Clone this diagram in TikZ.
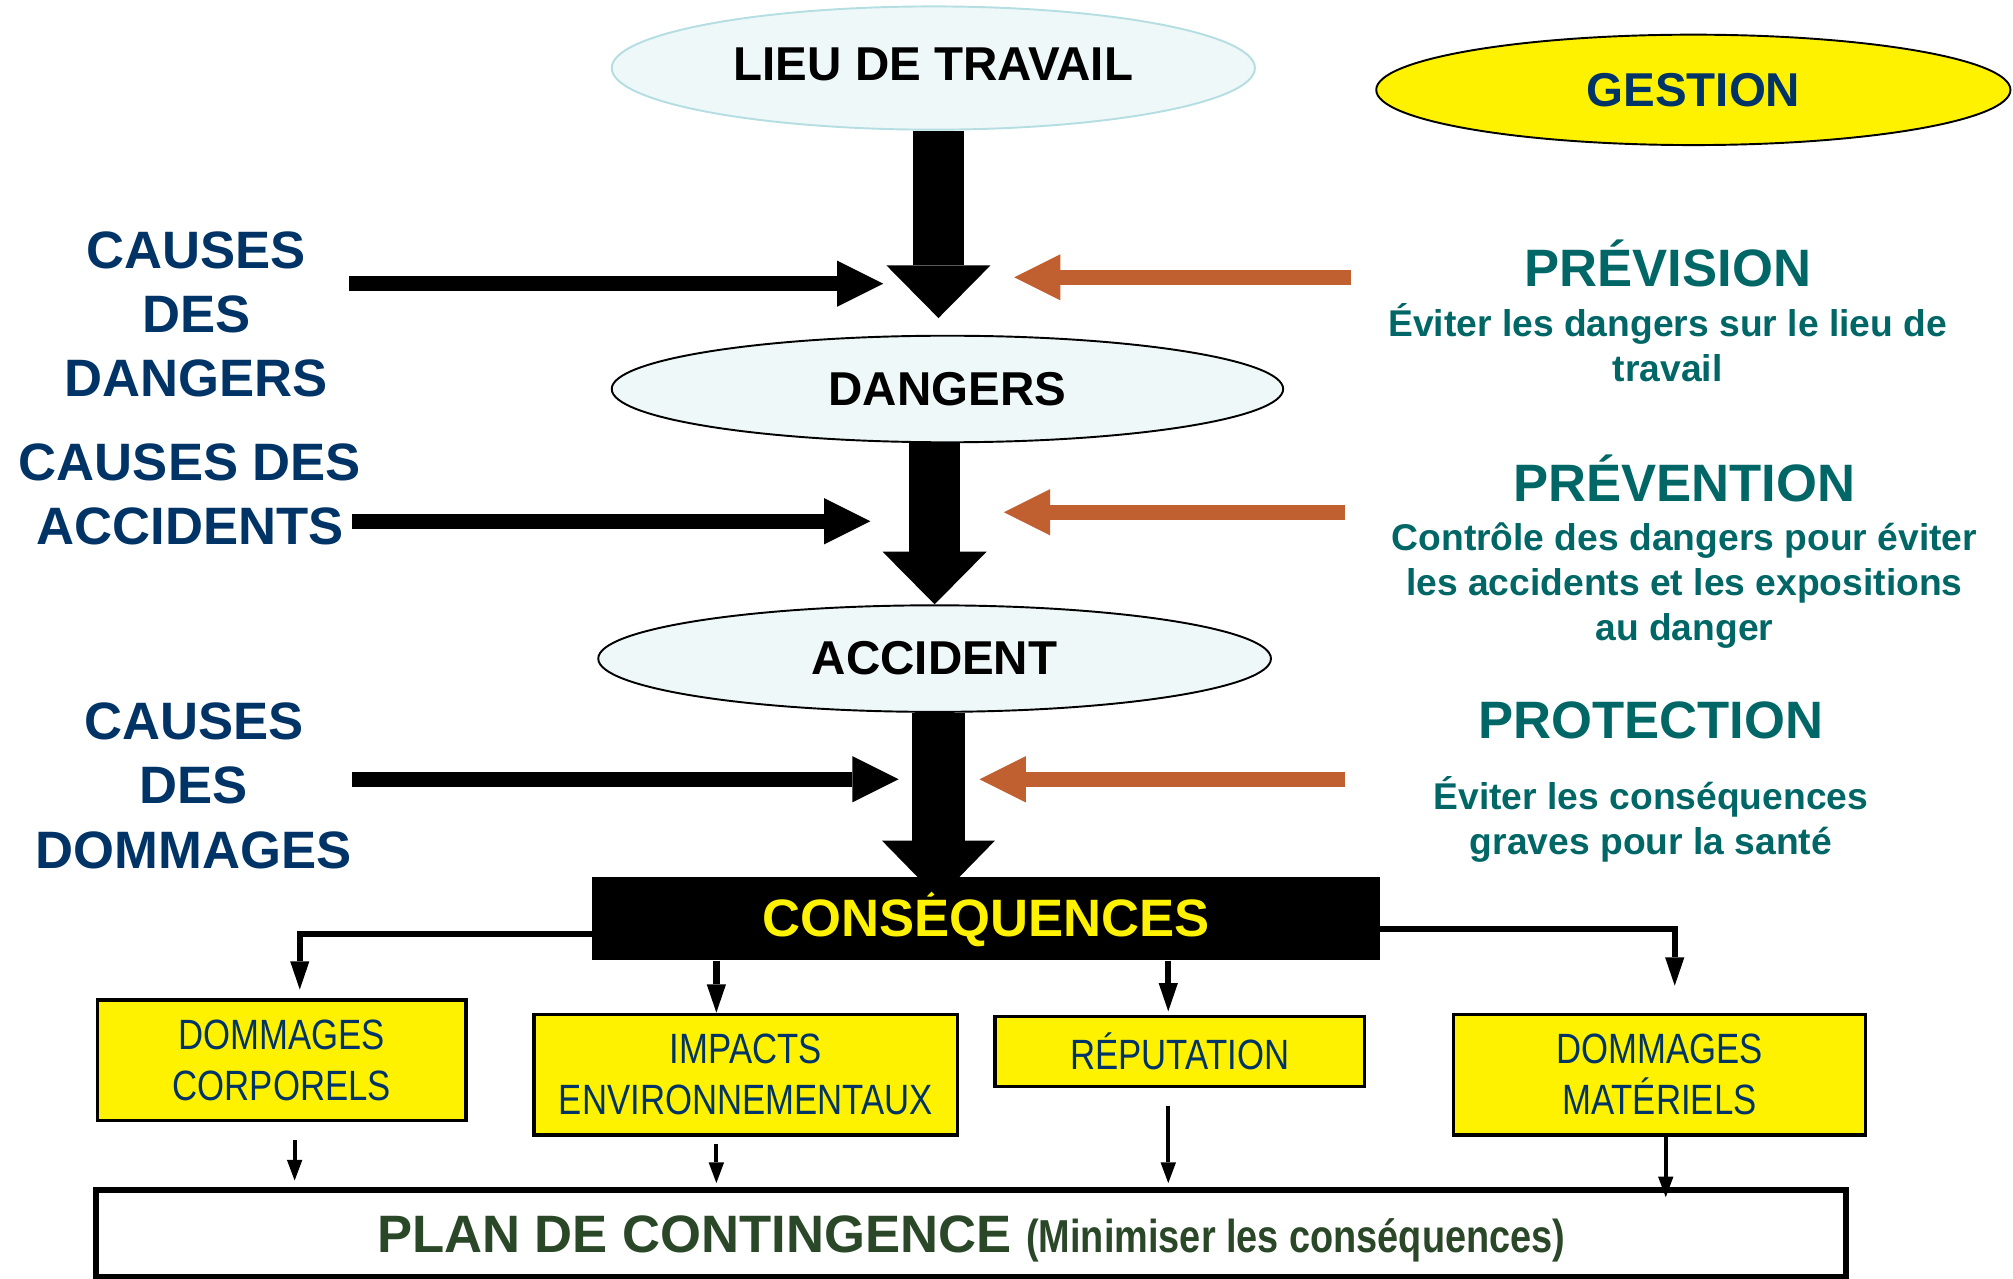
\documentclass[tikz,border=0pt]{standalone}
\usepackage{fontspec}
\setmainfont{Liberation Sans}
\newfontfamily\narrowfont[FakeStretch=0.82]{Liberation Sans}
\usetikzlibrary{shapes.geometric, arrows.meta, positioning}
\definecolor{navy}{RGB}{0,51,102}
\definecolor{tealtxt}{RGB}{0,102,102}
\definecolor{plangreen}{RGB}{42,72,40}
\definecolor{rust}{RGB}{192,96,48}
\definecolor{paleaqua}{RGB}{239,248,248}
\definecolor{aqualine}{RGB}{180,222,226}

\begin{document}
\begin{tikzpicture}[x=1pt, y=-1pt,
    oval/.style={ellipse, inner sep=0pt, line width=1.5pt, fill=paleaqua, draw=black,
                 font=\bfseries\fontsize{37}{44}\selectfont},
    cause/.style={align=center, inner sep=0pt, text=navy,
                  font=\bfseries\fontsize{41}{50}\selectfont},
    head/.style={inner sep=0pt, text=tealtxt, font=\bfseries\fontsize{41}{50}\selectfont},
    note/.style={align=center, inner sep=0pt, text=tealtxt,
                 font=\bfseries\fontsize{29}{35}\selectfont},
    outcome/.style={rectangle, draw=black, line width=2.5pt, fill=yellow, align=center,
                    inner sep=0pt, text=navy, font=\narrowfont\fontsize{33}{40}\selectfont},
    bigarr/.style={line width=40pt, -{Triangle[width=81pt,length=41pt,line width=0pt]}},
    sidearr/.style={line width=12pt, -{Triangle[width=36pt,length=36pt,line width=0pt]}},
    brarr/.style={line width=5pt, -{Triangle[width=15pt,length=22pt,line width=0pt]}},
    lowarr/.style={line width=3pt, -{Triangle[width=12pt,length=16pt,line width=0pt]}}
  ]
  \useasboundingbox (0,0) rectangle (1568,996);

  % central chain
  \node[oval, draw=aqualine, text depth=6pt, minimum width=501pt, minimum height=96pt] (lieu) at (727,53) {LIEU DE TRAVAIL};
  \node[oval, minimum width=523pt, minimum height=83pt] (dangers) at (738,303) {DANGERS};
  \node[oval, minimum width=524pt, minimum height=83pt] (accident) at (728,513) {ACCIDENT};
  \node[rectangle, fill=black, minimum width=614pt, minimum height=65pt, inner sep=0pt,
        text=yellow, font=\bfseries\fontsize{41}{50}\selectfont] (conseq) at (768,715.5) {CONSÉQUENCES};

  \node[ellipse, draw=black, line width=1.5pt, fill=yellow, inner sep=0pt, minimum width=494pt,
        minimum height=86pt, text=navy, font=\bfseries\fontsize{37}{44}\selectfont] (gestion) at (1319,70) {GESTION};

  % causes
  \node[cause] (cdang) at (153,245) {CAUSES\\DES\\DANGERS};
  \node[cause] (cacc) at (148,385) {CAUSES DES\\ACCIDENTS};
  \node[cause] (cdom) at (151,612) {CAUSES\\DES\\DOMMAGES};

  % management levels
  \node[head] (prev) at (1299,205) {PRÉVISION};
  \node[note] (prevtxt) at (1299,267) {Éviter les dangers sur le lieu de\\travail};
  \node[head] (preven) at (1312,373) {PRÉVENTION};
  \node[note] (preventxt) at (1312,456) {Contrôle des dangers pour éviter\\les accidents et les expositions\\au danger};
  \node[head] (prot) at (1286,561) {PROTECTION};
  \node[note] (prottxt) at (1286,638) {Éviter les conséquences\\graves pour la santé};

  % outcomes
  \node[outcome, minimum width=287pt, minimum height=94pt] (corp) at (219.5,826) {DOMMAGES\\CORPORELS};
  \node[outcome, minimum width=330pt, minimum height=94pt] (env) at (581,837) {IMPACTS\\ENVIRONNEMENTAUX};
  \node[outcome, minimum width=288pt, minimum height=54pt] (rep) at (919,819) {RÉPUTATION};
  \node[outcome, minimum width=321pt, minimum height=94pt] (mat) at (1292.5,837) {DOMMAGES\\MATÉRIELS};

  \node[rectangle, draw=black, line width=5pt, fill=white, minimum width=1363pt, minimum height=68pt,
        inner sep=0pt, text depth=0pt, text=plangreen, font=\bfseries\fontsize{41}{50}\selectfont] (plan) at (756.5,961)
        {PLAN DE CONTINGENCE {\narrowfont\fontsize{36}{40}\selectfont (Minimiser les conséquences)}};

  % arrow ends
  \coordinate (d1) at (688,221);
  \coordinate (d2) at (678,406);
  \coordinate (d3) at (700,607);
  \coordinate (g1) at (1052,216);
  \coordinate (g2) at (1048,399);
  \coordinate (g3) at (1048,607);

  % main flow
  \draw[bigarr, shorten >=13pt] ([xshift=4pt]lieu.south) -- ([xshift=4pt]lieu.south |- dangers.north);
  \draw[bigarr] (accident.north |- dangers.south) -- (accident.north);
  \draw[bigarr, line width=42pt, -{Triangle[width=88pt,length=45pt,line width=0pt]}, shorten >=-17pt]
    ([xshift=3pt]accident.south) -- ([xshift=3pt]accident.south |- conseq.north);

  \draw[sidearr, shorten <=16pt] (cdang.east |- d1) -- (d1);
  \draw[sidearr, shorten <=-7pt] (cacc.east |- d2) -- (d2);
  \draw[sidearr] (cdom.east |- d3) -- (d3);

  \draw[sidearr, rust] (g1) -- (790,216);
  \draw[sidearr, rust] (g2) -- (782,399);
  \draw[sidearr, rust] (g3) -- (763,607);

  % consequences
  \draw[brarr, shorten >=7pt] ([yshift=-12pt]conseq.west) -| ([xshift=14pt]corp.north);
  \draw[brarr] ([xshift=-23pt]env.north |- conseq.south) -- ([xshift=-23pt]env.north);
  \draw[brarr, shorten >=3pt] ([xshift=-9pt]rep.north |- conseq.south) -- ([xshift=-9pt]rep.north);
  \draw[brarr, shorten >=21pt] ([yshift=-8pt]conseq.east) -| ([xshift=12pt]mat.north);

  \draw[lowarr, shorten <=14pt, shorten >=5pt] ([xshift=10pt]corp.south) -- ([xshift=10pt]corp.south |- plan.north);
  \draw[lowarr, shorten <=6pt, shorten >=3pt] ([xshift=-23pt]env.south) -- ([xshift=-23pt]env.south |- plan.north);
  \draw[lowarr, shorten <=14pt, shorten >=3pt] ([xshift=-9pt]rep.south) -- ([xshift=-9pt]rep.south |- plan.north);
  \draw[lowarr, shorten >=-8pt] ([xshift=5pt]mat.south) -- ([xshift=5pt]mat.south |- plan.north);
\end{tikzpicture}
\end{document}
